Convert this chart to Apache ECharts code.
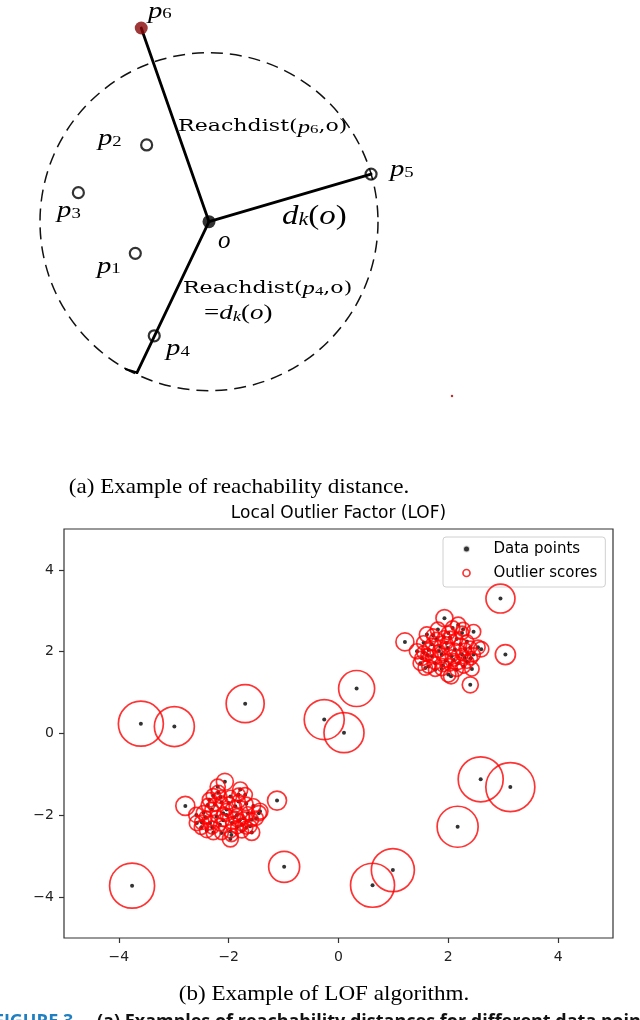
<!DOCTYPE html>
<html>
<head>
<meta charset="utf-8">
<script src="https://cdn.jsdelivr.net/npm/echarts@6.0.0/dist/echarts.min.js"></script>
<style>html,body{margin:0;padding:0;background:#fff}#c{width:640px;height:1020px}</style>
</head>
<body>
<div id="c"></div>
<script>
// ===== (a) reachability-distance diagram (unit = k-distance of o) =====
const centerO = [0, 0];
const kDistance = 1.0;
const neighbourNames = ['p1', 'p2', 'p3', 'p4', 'p5'];
const neighbourX = [-0.436, -0.369, -0.773, -0.324, 0.959];
const neighbourY = [-0.187, 0.454, 0.172, -0.675, 0.282];
const pointP6 = [-0.401, 1.146];
const p4RayEnd = [-0.426, -0.893];
const p4RayCap = [-0.491, -0.873];
const strayDot = [1.438, -1.031];

// ===== (b) LOF scatter: [x, y, normalised outlier score] =====
const lofOutliers = [
  [-3.60, 0.24, .843], [-2.99, 0.17, .666], [-1.70, 0.73, .601], [-0.26, 0.34, .666],
  [0.10, 0.02, .666], [0.33, 1.10, .540], [2.95, 3.30, .350], [3.04, 1.93, .167],
  [1.21, 2.24, .135], [2.40, 1.19, .107], [2.59, -1.12, .843], [3.13, -1.31, 1.0],
  [2.17, -2.28, .700], [0.99, -3.34, .770], [0.62, -3.71, .806], [-0.99, -3.26, .400],
  [-3.76, -3.72, .843], [-1.12, -1.64, .150], [-2.79, -1.77, .150]
];
const clusterA = [
  [1.93, 2.82, .12], [2.18, 2.66, .095], [2.46, 2.49, .085], [1.61, 2.42, .095], [1.81, 2.54, .095],
  [2.00, 2.46, .075], [2.25, 2.46, .075], [1.78, 2.31, .075], [1.97, 2.21, .065], [2.15, 2.31, .065],
  [2.34, 2.25, .075], [2.54, 2.11, .085], [2.60, 2.06, .095], [1.43, 2.01, .095], [1.64, 2.05, .075],
  [1.85, 2.13, .065], [1.99, 2.09, .065], [2.12, 2.05, .065], [2.31, 2.06, .065], [2.46, 1.93, .075],
  [2.41, 1.84, .075], [1.52, 1.84, .085], [1.70, 1.89, .065], [1.88, 1.93, .065], [2.06, 1.89, .065],
  [2.25, 1.93, .065], [1.58, 1.60, .085], [1.76, 1.56, .075], [1.88, 1.58, .075], [2.03, 1.68, .065],
  [2.18, 1.72, .065], [2.34, 1.76, .075], [2.43, 1.58, .085], [2.00, 1.44, .095], [2.05, 1.40, .095],
  [1.76, 1.72, .065], [1.49, 1.72, .085], [1.64, 1.64, .075], [2.15, 1.56, .075], [1.92, 2.36, .065],
  [2.08, 2.58, .085], [1.70, 2.18, .065], [2.28, 1.64, .075], [1.55, 1.98, .075],
  [1.72, 2.40, .07], [2.22, 2.18, .065], [2.40, 2.10, .07], [1.95, 1.78, .065], [1.62, 1.92, .07],
  [2.10, 1.80, .065], [1.83, 2.02, .065], [2.27, 2.55, .08], [1.55, 2.22, .08], [2.30, 1.85, .065],
  [2.03, 2.35, .065], [1.90, 1.67, .07]
];
const clusterB = [
  [-2.07, -1.18, .12], [-2.19, -1.44, .085], [-1.79, -1.37, .095], [-1.97, -1.54, .065], [-2.28, -1.52, .085],
  [-1.82, -1.50, .075], [-2.13, -1.68, .065], [-2.04, -1.86, .065], [-1.88, -1.78, .065], [-1.68, -1.72, .075],
  [-1.55, -1.77, .085], [-1.43, -1.90, .105], [-2.59, -1.99, .095], [-2.46, -1.94, .085], [-2.31, -1.85, .075],
  [-2.22, -2.03, .065], [-2.04, -1.99, .065], [-1.85, -1.99, .065], [-1.73, -2.07, .065], [-1.58, -2.11, .075],
  [-2.49, -2.17, .085], [-2.34, -2.19, .075], [-2.16, -2.23, .065], [-1.94, -2.19, .065], [-1.76, -2.23, .065],
  [-1.61, -2.27, .075], [-2.40, -2.37, .085], [-2.28, -2.42, .085], [-2.13, -2.43, .075], [-1.97, -2.39, .075],
  [-1.76, -2.39, .075], [-1.58, -2.42, .105], [-1.97, -2.58, .105], [-1.50, -2.07, .085], [-2.58, -2.19, .095],
  [-2.25, -1.74, .075], [-1.82, -1.66, .075], [-2.10, -1.95, .065], [-1.90, -2.05, .065], [-2.20, -1.30, .095],
  [-1.70, -1.50, .085], [-2.35, -1.62, .085], [-1.45, -1.95, .095],
  [-2.42, -2.05, .07], [-2.10, -2.12, .065], [-1.80, -2.12, .065], [-2.00, -1.70, .065], [-1.65, -1.95, .07],
  [-2.30, -2.30, .07], [-1.85, -2.30, .065], [-2.15, -1.55, .07], [-1.95, -2.48, .075], [-2.50, -2.30, .08],
  [-1.68, -2.30, .07], [-2.38, -1.75, .075]
];
const xTickValues = [-4, -2, 0, 2, 4];
const yTickValues = [-4, -2, 0, 2, 4];
const legendNames = ['Data points', 'Outlier scores'];

// ===== text =====
const captionA = '(a) Example of reachability distance.';
const chartTitle = 'Local Outlier Factor (LOF)';
const captionB = '(b) Example of LOF algorithm.';
const figureLabel = 'FIGURE 3.';
const figureText = '(a) Examples of reachability distances for different data points.';

// diagram annotations (anchor = left edge / vertical middle, diagram units)
const diagramLabels = [
  { at: [-0.361, 1.247], f: '{i|p}{s|6}', sx: 1.25 },
  { at: [-0.657, 0.490], f: '{i|p}{s|2}', sx: 1.25 },
  { at: [-0.899, 0.064], f: '{i|p}{s|3}', sx: 1.25 },
  { at: [-0.663, -0.262], f: '{i|p}{s|1}', sx: 1.25 },
  { at: [1.071, 0.310], f: '{i|p}{s|5}', sx: 1.25 },
  { at: [-0.254, -0.752], f: '{i|p}{s|4}', sx: 1.25 },
  { at: [0.053, -0.118], f: '{o|o}', sx: 1.0 },
  { at: [-0.183, 0.560], f: '{r|Reachdist(}{ri|p}{rs|6}{r|,o)}', sx: 1.3 },
  { at: [-0.154, -0.398], f: '{r|Reachdist(}{ri|p}{rs|4}{r|,o)}', sx: 1.3 },
  { at: [0.432, 0.030], f: '{d|d}{ds|k}{dr|(}{d|o}{dr|)}', sx: 1.22 },
  { at: [-0.030, -0.546], f: '{er|=}{e|d}{es|k}{er|(}{e|o}{er|)}', sx: 1.35 }
];

const SERIF = "'Liberation Serif', 'DejaVu Serif', serif";
const richStyles = {
  i: { fontFamily: SERIF, fontStyle: 'italic', fontSize: 23, fill: '#000', lineHeight: 22, verticalAlign: 'top' },
  s: { fontFamily: SERIF, fontSize: 15, fill: '#000', lineHeight: 14, verticalAlign: 'bottom' },
  o: { fontFamily: SERIF, fontStyle: 'italic', fontSize: 25, fill: '#000' },
  r: { fontFamily: "'DejaVu Serif', serif", fontSize: 17, fill: '#000', lineHeight: 18, verticalAlign: 'top' },
  ri: { fontFamily: SERIF, fontStyle: 'italic', fontSize: 19, fill: '#000', lineHeight: 18, verticalAlign: 'top' },
  rs: { fontFamily: SERIF, fontSize: 13, fill: '#000', lineHeight: 12, verticalAlign: 'bottom' },
  d: { fontFamily: SERIF, fontStyle: 'italic', fontSize: 27, fill: '#000', lineHeight: 26, verticalAlign: 'top' },
  ds: { fontFamily: SERIF, fontStyle: 'italic', fontSize: 18, fill: '#000', lineHeight: 14, verticalAlign: 'bottom' },
  dr: { fontFamily: SERIF, fontSize: 27, fill: '#000', lineHeight: 26, verticalAlign: 'top' },
  e: { fontFamily: SERIF, fontStyle: 'italic', fontSize: 20, fill: '#000', lineHeight: 20, verticalAlign: 'top' },
  es: { fontFamily: SERIF, fontStyle: 'italic', fontSize: 14, fill: '#000', lineHeight: 11, verticalAlign: 'bottom' },
  er: { fontFamily: SERIF, fontSize: 20, fill: '#000', lineHeight: 20, verticalAlign: 'top' }
};

const seg = (a, b, w) => ({
  type: 'line', xAxisIndex: 0, yAxisIndex: 0, data: [a, b], symbol: 'none', clip: false, silent: true,
  lineStyle: { color: '#000', width: w || 2.8, cap: 'round' }, z: 3
});

const allPoints = lofOutliers.concat(clusterA, clusterB);
const minus = v => String(v).replace('-', '\u2212');

const option = {
  animation: false,
  backgroundColor: '#fff',
  grid: [
    { left: 40, top: 52.7, width: 338, height: 338, show: false },
    { left: 64, top: 529, width: 549, height: 409, show: true, borderColor: '#333', borderWidth: 1.2, backgroundColor: 'transparent' }
  ],
  xAxis: [
    { gridIndex: 0, type: 'value', min: -1, max: 1, show: false },
    {
      gridIndex: 1, type: 'value', min: -5, max: 5, position: 'bottom',
      axisLine: { show: false, onZero: false }, splitLine: { show: false },
      axisTick: { show: true, inside: false, length: 5, customValues: xTickValues, lineStyle: { color: '#333', width: 1.2 } },
      axisLabel: { customValues: xTickValues, formatter: minus, margin: 12, color: '#222', fontSize: 14, fontFamily: 'DejaVu Sans' }
    }
  ],
  yAxis: [
    { gridIndex: 0, type: 'value', min: -1, max: 1, show: false },
    {
      gridIndex: 1, type: 'value', min: -5, max: 5, position: 'left',
      axisLine: { show: false, onZero: false }, splitLine: { show: false },
      axisTick: { show: true, inside: false, length: 5, customValues: yTickValues, lineStyle: { color: '#333', width: 1.2 } },
      axisLabel: { customValues: yTickValues, formatter: minus, margin: 10, color: '#222', fontSize: 14, fontFamily: 'DejaVu Sans' }
    }
  ],
  legend: {
    left: 443, top: 537, orient: 'vertical', selectedMode: false,
    itemWidth: 44, itemHeight: 7, itemGap: 8,
    padding: [4, 8, 6, 19],
    backgroundColor: 'rgba(255,255,255,0.85)', borderColor: '#d0d0d0', borderWidth: 1, borderRadius: 3,
    textStyle: { fontSize: 15, fontFamily: 'DejaVu Sans', color: '#000', lineHeight: 16 },
    data: [
      { name: legendNames[0], icon: 'circle', itemStyle: { color: '#000', borderColor: '#fff', borderWidth: 2 } },
      { name: legendNames[1], icon: 'circle', itemStyle: { color: 'rgba(0,0,0,0)', borderColor: '#ff0000', borderWidth: 1.7 } }
    ]
  },
  graphic: [
    { type: 'text', x: 239, y: 487, scaleX: 1.05, style: { text: captionA, fontFamily: SERIF, fontSize: 22, fill: '#000', align: 'center', verticalAlign: 'middle' } },
    { type: 'text', x: 338.5, y: 513.5, style: { text: chartTitle, fontFamily: 'DejaVu Sans', fontSize: 17, fill: '#000', align: 'center', verticalAlign: 'middle' } },
    { type: 'text', x: 324, y: 994, scaleX: 1.05, style: { text: captionB, fontFamily: SERIF, fontSize: 22, fill: '#000', align: 'center', verticalAlign: 'middle' } },
    { type: 'text', x: -6, y: 1013, style: { text: figureLabel, fontFamily: 'Open Sans', fontWeight: 'bold', fontSize: 18, fill: '#1f7fc0', align: 'left', verticalAlign: 'top' } },
    { type: 'text', x: 97, y: 1013, style: { text: figureText, fontFamily: 'Open Sans', fontWeight: 'bold', fontSize: 18, fill: '#111', align: 'left', verticalAlign: 'top' } }
  ],
  series: [
    {
      type: 'custom', xAxisIndex: 0, yAxisIndex: 0, clip: false, silent: true, z: 2,
      data: [[centerO[0], centerO[1], kDistance]],
      renderItem: (params, api) => {
        const c = api.coord([api.value(0), api.value(1)]);
        const s = api.size([api.value(2), api.value(2)]);
        return { type: 'circle', shape: { cx: c[0], cy: c[1], r: s[0] },
          style: { fill: 'none', stroke: '#111', lineWidth: 1.5, lineDash: [12, 7] } };
      }
    },
    seg(centerO, pointP6),
    seg(centerO, [neighbourX[4], neighbourY[4]]),
    seg(centerO, p4RayEnd),
    seg(p4RayEnd, p4RayCap, 2.2),
    {
      type: 'scatter', xAxisIndex: 0, yAxisIndex: 0, clip: false, silent: true, z: 4,
      symbol: 'circle', symbolSize: 11,
      itemStyle: { color: 'rgba(255,255,255,0)', borderColor: '#000', borderWidth: 2.2 },
      data: neighbourNames.map((n, i) => ({ name: n, value: [neighbourX[i], neighbourY[i]] }))
    },
    {
      type: 'scatter', xAxisIndex: 0, yAxisIndex: 0, clip: false, silent: true, z: 5,
      symbol: 'circle',
      data: [
        { name: 'p6', value: pointP6, symbolSize: 13, itemStyle: { color: '#870808' } },
        { name: 'o', value: centerO, symbolSize: 13, itemStyle: { color: '#000' } },
        { name: 'stray', value: strayDot, symbolSize: 2.5, itemStyle: { color: '#a00000' } }
      ]
    },
    {
      type: 'custom', xAxisIndex: 0, yAxisIndex: 0, clip: false, silent: true, z: 6,
      data: diagramLabels.map(l => l.at),
      renderItem: (params, api) => {
        const l = diagramLabels[params.dataIndex];
        const c = api.coord([api.value(0), api.value(1)]);
        return { type: 'text', x: c[0], y: c[1], scaleX: l.sx,
          style: { text: l.f, rich: richStyles, align: 'left', verticalAlign: 'middle', fill: '#000' } };
      }
    },
    {
      name: legendNames[0], type: 'scatter', xAxisIndex: 1, yAxisIndex: 1, silent: true, z: 3,
      symbol: 'circle', symbolSize: 4, itemStyle: { color: '#000' },
      data: allPoints.map(p => [p[0], p[1]])
    },
    {
      name: legendNames[1], type: 'scatter', xAxisIndex: 1, yAxisIndex: 1, silent: true, z: 4,
      symbol: 'circle', symbolSize: v => 49 * Math.sqrt(v[2]),
      itemStyle: { color: 'rgba(0,0,0,0)', borderColor: '#ff0000', borderWidth: 1.7 },
      data: allPoints.map(p => [p[0], p[1], p[2]])
    }
  ]
};

const chart = echarts.init(document.getElementById('c'), null, { renderer: 'canvas' });
chart.setOption(option);
</script>
</body>
</html>
